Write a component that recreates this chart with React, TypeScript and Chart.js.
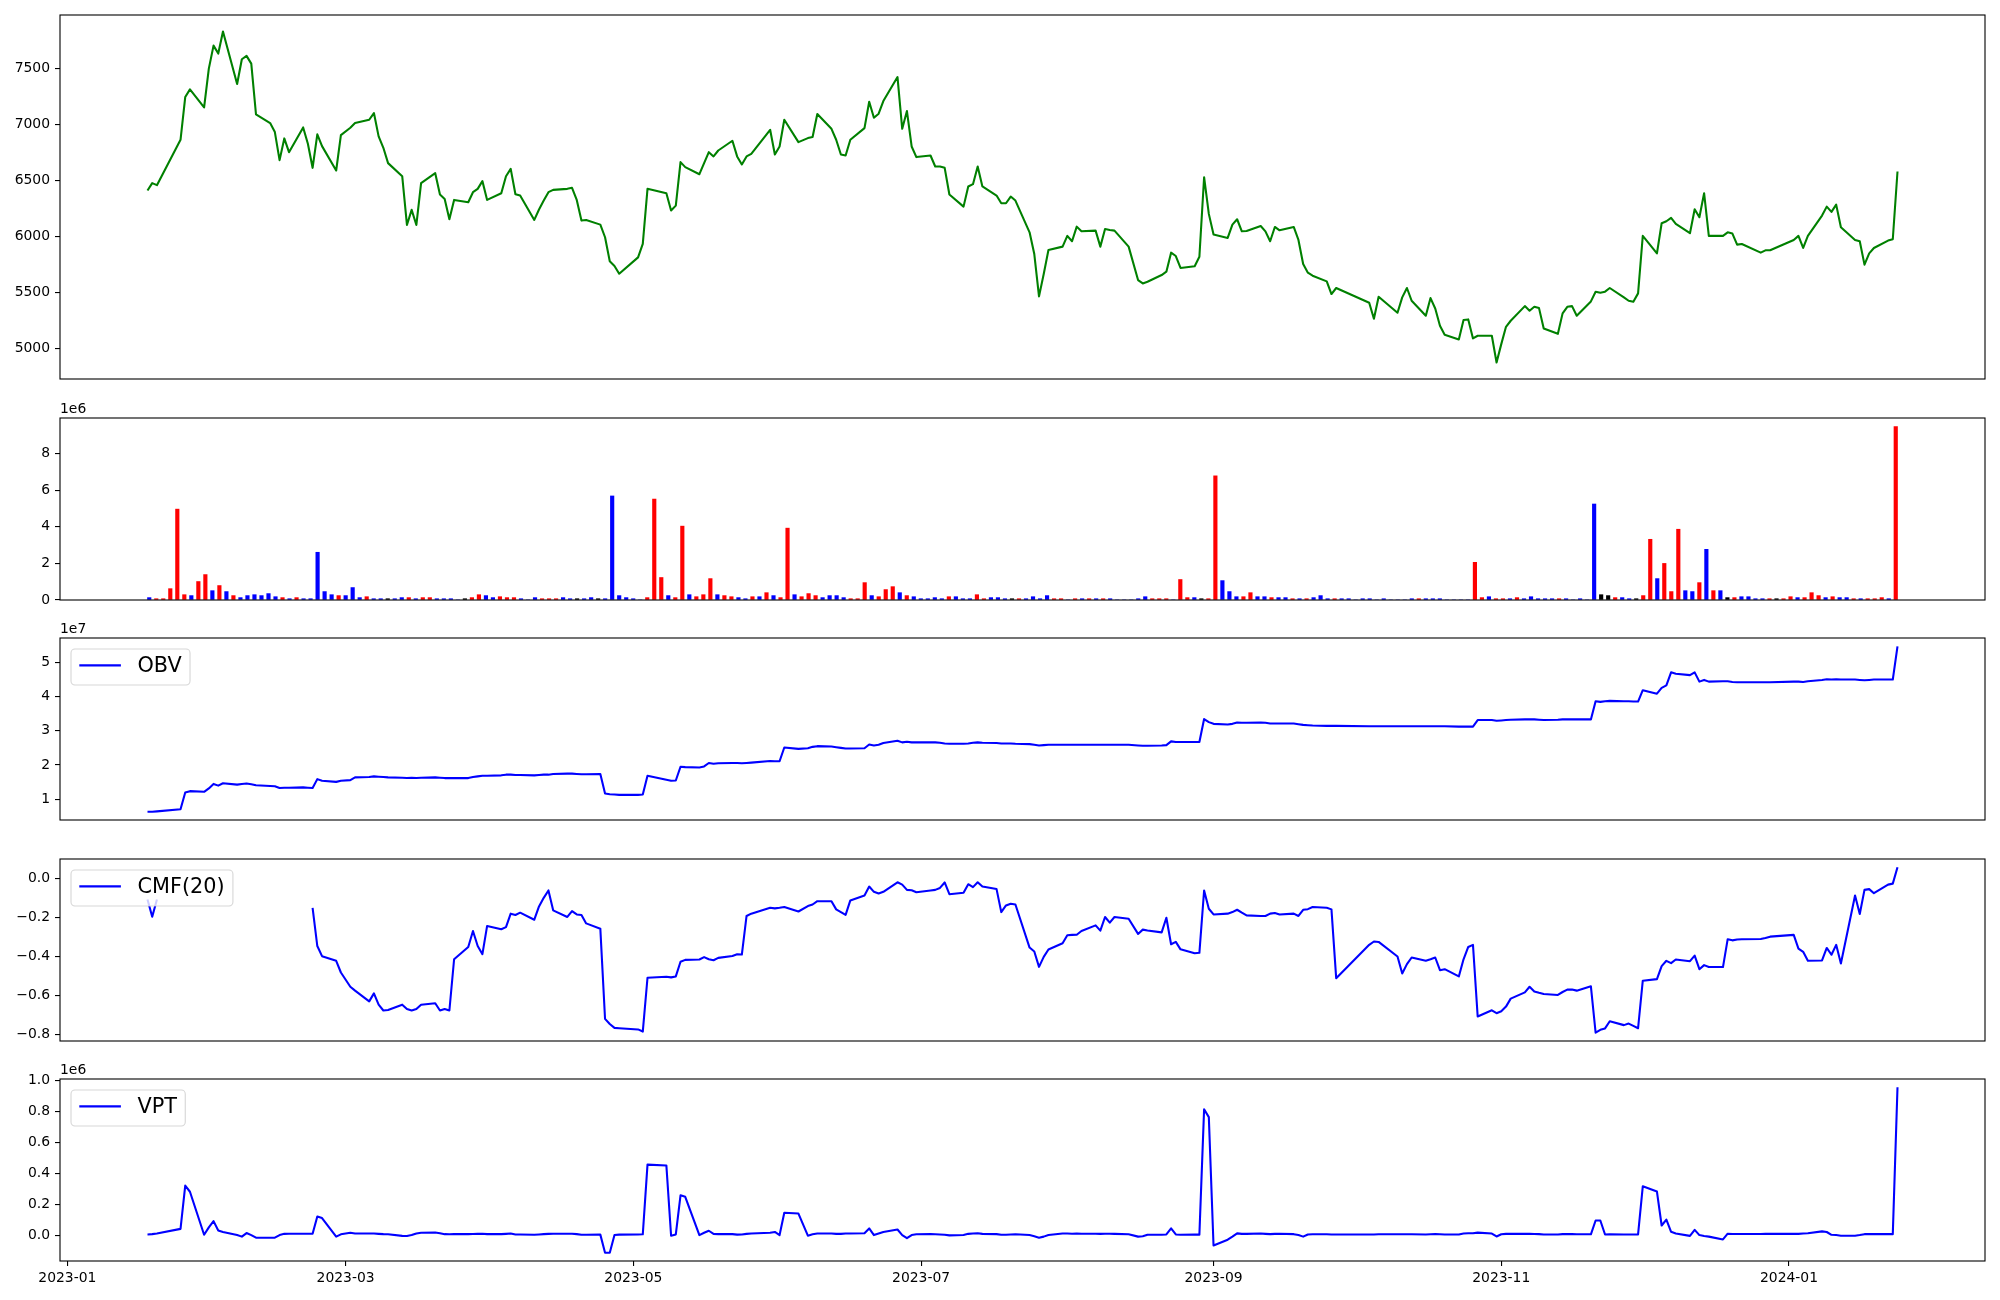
import React, { useEffect, useRef } from "react";
import { Chart, registerables } from "chart.js";
Chart.register(...registerables);

// ---------- calendar (Korean exchange trading days) ----------
const FIRST_DAY = "2023-01-18";
const LAST_DAY = "2024-01-24";
const MARKET_HOLIDAYS = [
  "2023-01-23", "2023-01-24", "2023-03-01", "2023-05-01", "2023-05-05", "2023-05-29",
  "2023-06-06", "2023-08-15", "2023-09-28", "2023-09-29", "2023-10-02", "2023-10-03",
  "2023-10-09", "2023-12-25", "2023-12-29", "2024-01-01",
];
const X_TICK_LABELS = ["2023-01", "2023-03", "2023-05", "2023-07", "2023-09", "2023-11", "2024-01"];

// ---------- data (one value per trading day) ----------
const PRICE = [
  6410, 6476, 6458, 6864, 7246, 7315, 7154, 7500, 7706, 7635,
  7832, 7363, 7584, 7614, 7545, 7091, 7013, 6933, 6682, 6876,
  6753, 6974, 6828, 6613, 6912, 6807, 6589, 6906, 6971, 7013,
  7043, 7103, 6894, 6792, 6655, 6538, 6102, 6237, 6102, 6476,
  6565, 6374, 6335, 6153, 6326, 6305, 6395, 6425, 6494, 6326,
  6386, 6538, 6604, 6377, 6365, 6147, 6240, 6320, 6395, 6416,
  6425, 6434, 6326, 6141, 6147, 6105, 5992, 5777, 5735, 5666,
  5812, 5932, 6425, 6386, 6231, 6275, 6664, 6619, 6556, 6655,
  6753, 6715, 6768, 6855, 6715, 6643, 6715, 6738, 6953, 6732,
  6804, 7043, 6843, 6879, 6888, 7094, 6962, 6864, 6732, 6723,
  6864, 6968, 7204, 7061, 7097, 7210, 7425, 6962, 7121, 6804,
  6709, 6723, 6625, 6625, 6613, 6374, 6266, 6446, 6467, 6625,
  6446, 6365, 6296, 6296, 6356, 6320, 6036, 5842, 5463, 5663,
  5878, 5908, 6004, 5956, 6087, 6045, 6051, 5908, 6066, 6057,
  6051, 5908, 5609, 5579, 5594, 5654, 5684, 5854, 5824, 5717,
  5732, 5818, 6529, 6201, 6016, 5986, 6105, 6153, 6045, 6048,
  6093, 6045, 5956, 6084, 6054, 6084, 5968, 5753, 5675, 5648,
  5597, 5484, 5538, 5406, 5263, 5460, 5317, 5454, 5538, 5424,
  5290, 5448, 5355, 5200, 5119, 5078, 5251, 5257, 5087, 5111,
  5111, 4872, 5036, 5191, 5245, 5376, 5335, 5370, 5358, 5176,
  5128, 5311, 5370, 5376, 5290, 5418, 5505, 5496, 5505, 5538,
  5454, 5424, 5415, 5490, 6004, 5848, 6117, 6135, 6165, 6111,
  6028, 6243, 6171, 6386, 6004, 6004, 6036, 6025, 5926, 5932,
  5854, 5875, 5875, 5968, 6004, 5896, 6004, 6186, 6266, 6219,
  6284, 6081, 5968, 5956, 5747, 5848, 5896, 5962, 5974, 6580,
];

// volume in millions
const VOLUME_M = [
  0.13, 0.07, 0.07, 0.62, 4.97, 0.29, 0.24, 1.01, 1.39, 0.51,
  0.79, 0.46, 0.24, 0.13, 0.24, 0.29, 0.24, 0.35, 0.18, 0.13,
  0.07, 0.13, 0.07, 0.07, 2.61, 0.46, 0.29, 0.24, 0.24, 0.68,
  0.13, 0.18, 0.07, 0.07, 0.07, 0.07, 0.13, 0.13, 0.07, 0.13,
  0.13, 0.07, 0.07, 0.07, 0, 0.07, 0.13, 0.29, 0.24, 0.13,
  0.18, 0.13, 0.13, 0.07, 0, 0.13, 0.07, 0.07, 0.07, 0.13,
  0.07, 0.07, 0.07, 0.13, 0.07, 0.07, 5.69, 0.24, 0.13, 0.07,
  0, 0.13, 5.52, 1.23, 0.24, 0.13, 4.04, 0.29, 0.18, 0.29,
  1.17, 0.29, 0.24, 0.18, 0.13, 0.07, 0.18, 0.18, 0.40, 0.24,
  0.13, 3.93, 0.29, 0.18, 0.35, 0.24, 0.13, 0.24, 0.24, 0.13,
  0.07, 0.07, 0.95, 0.24, 0.18, 0.57, 0.73, 0.40, 0.24, 0.18,
  0.07, 0.07, 0.13, 0.07, 0.18, 0.18, 0.07, 0.07, 0.29, 0.07,
  0.13, 0.13, 0.07, 0.07, 0.07, 0.07, 0.18, 0.07, 0.24, 0.07,
  0.07, 0, 0.07, 0.07, 0.07, 0.07, 0.07, 0.07, 0, 0,
  0, 0.07, 0.18, 0.07, 0.07, 0.07, 0, 1.12, 0.13, 0.13,
  0.07, 0.07, 6.79, 1.06, 0.46, 0.18, 0.18, 0.40, 0.18, 0.18,
  0.13, 0.13, 0.13, 0.07, 0.07, 0.07, 0.13, 0.24, 0.07, 0.07,
  0.07, 0.07, 0, 0.07, 0.07, 0, 0.07, 0, 0, 0,
  0.07, 0.07, 0.07, 0.07, 0.07, 0, 0, 0, 0, 2.06,
  0.13, 0.18, 0.07, 0.07, 0.07, 0.13, 0.07, 0.18, 0.07, 0.07,
  0.07, 0.07, 0.07, 0, 0.07, 0, 5.25, 0.29, 0.24, 0.13,
  0.13, 0.07, 0.07, 0.24, 3.32, 1.17, 2.00, 0.46, 3.87, 0.51,
  0.46, 0.95, 2.77, 0.51, 0.51, 0.13, 0.13, 0.18, 0.18, 0.07,
  0.07, 0.07, 0.07, 0.07, 0.18, 0.13, 0.13, 0.40, 0.24, 0.13,
  0.18, 0.13, 0.13, 0.07, 0.07, 0.07, 0.07, 0.13, 0.07, 9.48,
];

// bar colour: r = red, b = blue, k = black
const VOLUME_COLOR = (
  "brrrrrbrrb" + "rbrbbbbbbr" + "brbbbbbrbb" + "brbbkbbrbr" + "rbbbbkrrbb" +
  "rrrbbbrrrb" + "bkbbkbbbbb" + "brrrbrrbrr" + "rbrrbbrbrb" + "rrbrrrbbbb" +
  "rrrbrrrbrb" + "bbbbrbbbrr" + "bbbkrbbbbr" + "rbrbrbrbbb" + "bbbrrrbrrb" +
  "krrbbbrrbb" + "rbbrbrbbbr" + "bbbbbbbbbb" + "brbbbbbbbr" + "rbrrbrbbbb" +
  "brbbbbbkkr" + "bbkrrbrrrb" + "brbrbkrbbb" + "brkrrbrrrb" + "rbbrbrrrbr"
).split("");

// OBV in units of 1e7
const OBV_E7 = [
  0.64, 0.64, 0.65, 0.71, 1.20, 1.24, 1.22, 1.32, 1.45, 1.40,
  1.47, 1.43, 1.45, 1.46, 1.44, 1.41, 1.39, 1.38, 1.33, 1.34,
  1.34, 1.35, 1.34, 1.33, 1.59, 1.54, 1.51, 1.54, 1.56, 1.64,
  1.65, 1.67, 1.66, 1.65, 1.64, 1.63, 1.62, 1.63, 1.62, 1.63,
  1.64, 1.63, 1.62, 1.62, 1.62, 1.62, 1.65, 1.67, 1.69, 1.69,
  1.70, 1.72, 1.72, 1.71, 1.71, 1.70, 1.71, 1.72, 1.72, 1.74,
  1.75, 1.75, 1.74, 1.73, 1.73, 1.74, 1.17, 1.15, 1.14, 1.13,
  1.13, 1.14, 1.69, 1.57, 1.54, 1.55, 1.95, 1.94, 1.93, 1.96,
  2.06, 2.04, 2.05, 2.06, 2.06, 2.05, 2.06, 2.07, 2.12, 2.11,
  2.11, 2.51, 2.47, 2.49, 2.53, 2.55, 2.54, 2.52, 2.50, 2.48,
  2.48, 2.49, 2.60, 2.57, 2.59, 2.64, 2.71, 2.66, 2.68, 2.66,
  2.66, 2.66, 2.66, 2.65, 2.63, 2.62, 2.62, 2.63, 2.65, 2.66,
  2.65, 2.64, 2.63, 2.63, 2.63, 2.62, 2.61, 2.59, 2.57, 2.58,
  2.59, 2.59, 2.59, 2.59, 2.59, 2.59, 2.59, 2.59, 2.59, 2.59,
  2.59, 2.59, 2.57, 2.56, 2.56, 2.57, 2.58, 2.69, 2.67, 2.67,
  2.67, 2.67, 3.34, 3.25, 3.20, 3.18, 3.20, 3.24, 3.23, 3.23,
  3.24, 3.23, 3.21, 3.21, 3.21, 3.21, 3.19, 3.17, 3.16, 3.15,
  3.14, 3.14, 3.14, 3.13, 3.13, 3.13, 3.13, 3.13, 3.13, 3.13,
  3.13, 3.13, 3.13, 3.13, 3.13, 3.12, 3.12, 3.12, 3.12, 3.31,
  3.31, 3.29, 3.30, 3.31, 3.32, 3.33, 3.33, 3.33, 3.32, 3.31,
  3.32, 3.33, 3.33, 3.33, 3.33, 3.33, 3.86, 3.84, 3.86, 3.87,
  3.86, 3.86, 3.85, 3.85, 4.18, 4.08, 4.25, 4.32, 4.70, 4.66,
  4.62, 4.70, 4.43, 4.48, 4.43, 4.44, 4.44, 4.42, 4.41, 4.41,
  4.41, 4.41, 4.41, 4.43, 4.43, 4.42, 4.44, 4.48, 4.50, 4.49,
  4.50, 4.49, 4.49, 4.48, 4.47, 4.48, 4.49, 4.49, 4.49, 5.46,
];

const CMF_20: (number | null)[] = [
  -0.107, -0.196, -0.107, null, null, null, null, null, null, null,
  null, null, null, null, null, null, null, null, null, null,
  null, null, null, -0.150, -0.346, -0.398, -0.422, -0.482, -0.555, -0.575,
  -0.630, -0.589, -0.647, -0.677, -0.674, -0.647, -0.669, -0.677, -0.669, -0.647,
  -0.640, -0.677, -0.669, -0.677, -0.414, -0.351, -0.269, -0.346, -0.388, -0.243,
  -0.260, -0.249, -0.180, -0.187, -0.175, -0.211, -0.143, -0.099, -0.061, -0.163,
  -0.197, -0.167, -0.184, -0.187, -0.230, -0.257, -0.720, -0.746, -0.766, -0.768,
  -0.774, -0.785, -0.509, -0.504, -0.507, -0.502, -0.427, -0.417, -0.415, -0.403,
  -0.414, -0.419, -0.407, -0.397, -0.388, -0.390, -0.192, -0.180, -0.150, -0.153,
  -0.150, -0.146, -0.169, -0.141, -0.133, -0.116, -0.116, -0.158, -0.172, -0.186,
  -0.112, -0.087, -0.041, -0.068, -0.077, -0.068, -0.019, -0.031, -0.058, -0.060,
  -0.070, -0.061, -0.058, -0.048, -0.020, -0.080, -0.073, -0.029, -0.044, -0.019,
  -0.041, -0.054, -0.172, -0.138, -0.129, -0.133, -0.354, -0.374, -0.453, -0.402,
  -0.364, -0.332, -0.291, -0.289, -0.288, -0.269, -0.240, -0.267, -0.197, -0.226,
  -0.197, -0.206, -0.284, -0.262, -0.266, -0.276, -0.201, -0.337, -0.325, -0.363,
  -0.383, -0.381, -0.061, -0.155, -0.184, -0.180, -0.172, -0.160, -0.175, -0.189,
  -0.192, -0.192, -0.180, -0.177, -0.184, -0.180, -0.192, -0.160, -0.157, -0.146,
  -0.150, -0.158, -0.511, -0.340, -0.323, -0.325, -0.400, -0.487, -0.439, -0.405,
  -0.422, -0.414, -0.405, -0.470, -0.465, -0.502, -0.414, -0.351, -0.340, -0.708,
  -0.676, -0.691, -0.681, -0.657, -0.616, -0.584, -0.555, -0.579, -0.586, -0.592,
  -0.597, -0.582, -0.570, -0.569, -0.575, -0.553, -0.791, -0.776, -0.769, -0.732,
  -0.752, -0.744, -0.756, -0.768, -0.524, -0.516, -0.449, -0.422, -0.434, -0.415,
  -0.424, -0.395, -0.465, -0.444, -0.454, -0.454, -0.311, -0.317, -0.313, -0.311,
  -0.310, -0.305, -0.298, -0.289, -0.359, -0.376, -0.422, -0.420, -0.356, -0.391,
  -0.340, -0.436, -0.087, -0.182, -0.058, -0.054, -0.075, -0.031, -0.026, 0.058,
];

// VPT in units of 1e6
const VPT_E6 = [
  0.004, 0.006, 0.01, 0.04, 0.32, 0.28, 0.002, 0.05, 0.09, 0.03,
  0.02, 0.0, -0.01, 0.013, 0.0, -0.017, -0.017, -0.017, 0.0, 0.008,
  0.009, 0.009, 0.009, 0.009, 0.12, 0.11, -0.01, 0.005, 0.015, 0.01,
  0.01, 0.01, 0.008, 0.006, 0.005, -0.005, -0.006, 0.0, 0.01, 0.015,
  0.017, 0.012, 0.006, 0.005, 0.006, 0.006, 0.007, 0.008, 0.009, 0.006,
  0.006, 0.008, 0.01, 0.004, 0.004, 0.002, 0.004, 0.006, 0.008, 0.009,
  0.009, 0.009, 0.006, 0.002, 0.002, 0.003, -0.114, -0.114, 0.0, 0.003,
  0.004, 0.005, 0.455, 0.45, -0.004, 0.004, 0.257, 0.247, 0.0, 0.015,
  0.028, 0.008, 0.006, 0.006, 0.003, 0.004, 0.008, 0.01, 0.015, 0.02,
  0.0, 0.144, 0.139, -0.004, 0.005, 0.01, 0.01, 0.008, 0.008, 0.01,
  0.01, 0.012, 0.043, 0.0, 0.01, 0.02, 0.036, 0.0, -0.02, 0.0,
  0.005, 0.006, 0.005, 0.004, 0.002, -0.002, 0.0, 0.008, 0.01, 0.012,
  0.008, 0.006, 0.002, 0.002, 0.004, 0.005, 0.0, -0.008, -0.017, -0.01,
  0.0, 0.01, 0.01, 0.009, 0.01, 0.009, 0.009, 0.008, 0.009, 0.009,
  0.008, 0.005, -0.01, -0.008, 0.002, 0.002, 0.004, 0.043, 0.004, 0.002,
  0.003, 0.003, 0.813, 0.762, -0.067, -0.03, -0.01, 0.011, 0.008, 0.008,
  0.01, 0.008, 0.006, 0.008, 0.009, 0.006, 0.0, -0.01, 0.004, 0.005,
  0.005, 0.004, 0.004, 0.004, 0.004, 0.005, 0.005, 0.005, 0.005, 0.005,
  0.004, 0.005, 0.006, 0.005, 0.004, 0.004, 0.01, 0.012, 0.012, 0.016,
  0.01, -0.009, 0.005, 0.008, 0.008, 0.009, 0.008, 0.007, 0.006, 0.004,
  0.004, 0.006, 0.007, 0.006, 0.005, 0.005, 0.094, 0.094, 0.004, 0.005,
  0.004, 0.004, 0.004, 0.004, 0.315, 0.281, 0.062, 0.10, 0.021, 0.01,
  -0.005, 0.034, 0.0, -0.006, -0.01, -0.028, 0.009, 0.007, 0.007, 0.007,
  0.007, 0.008, 0.008, 0.008, 0.008, 0.01, 0.012, 0.024, 0.02, 0.002,
  0.0, -0.004, -0.004, 0.0, 0.006, 0.006, 0.006, 0.006, 0.006, 0.955,
];

const PRICE_TICKS = [5000, 5500, 6000, 6500, 7000, 7500];
const VOLUME_TICKS = [0, 2, 4, 6, 8];
const OBV_TICKS = [1, 2, 3, 4, 5];
const CMF_TICKS = [-0.8, -0.6, -0.4, -0.2, 0.0];
const VPT_TICKS = [0, 0.2, 0.4, 0.6, 0.8, 1.0];

// ---------- helpers ----------
const ORIGIN = Date.UTC(2023, 0, 1);
const DAY_MS = 86400000;
const dayNum = (iso: string) => Math.round((Date.parse(iso + "T00:00:00Z") - ORIGIN) / DAY_MS);

function buildTradingDays(): number[] {
  const out: number[] = [];
  for (let d = dayNum(FIRST_DAY); d <= dayNum(LAST_DAY); d++) {
    const dt = new Date(ORIGIN + d * DAY_MS);
    const wd = dt.getUTCDay();
    if (wd === 0 || wd === 6) continue;
    if (MARKET_HOLIDAYS.includes(dt.toISOString().slice(0, 10))) continue;
    out.push(d);
  }
  return out;
}
const TRADING_DAYS = buildTradingDays();
const X_TICK_DAYS = X_TICK_LABELS.map((l) => dayNum(l + "-01"));

const COLOR_MAP: Record<string, string> = { r: "#ff0000", b: "#0000ff", k: "#000000" };
const FONT = '"DejaVu Sans", "Liberation Sans", sans-serif';
const TICK_FONT = { family: FONT, size: 13.9 };

function padRange(vals: (number | null)[]) {
  const v = vals.filter((x) => x !== null) as number[];
  const lo = Math.min(...v), hi = Math.max(...v);
  const m = (hi - lo) * 0.05;
  return [lo - m, hi + m];
}

const DATE_FIRST = TRADING_DAYS[0];
const DATE_LAST = TRADING_DAYS[TRADING_DAYS.length - 1];
const DATE_MARGIN = (DATE_LAST - DATE_FIRST) * 0.05;
const X_MIN = DATE_FIRST - DATE_MARGIN;
const X_MAX = DATE_LAST + DATE_MARGIN;

function yAxis(min: number, max: number, ticks: number[], fmt: (v: number) => string) {
  return {
    type: "linear",
    position: "left",
    min,
    max,
    afterBuildTicks: (s: any) => {
      s.ticks = ticks.map((v) => ({ value: v }));
    },
    afterFit: (s: any) => {
      s.width = 60;
    },
    ticks: {
      callback: (v: any) => fmt(Number(v)),
      font: TICK_FONT,
      color: "#000",
      padding: 5,
      autoSkip: false,
      maxRotation: 0,
    },
    grid: { drawOnChartArea: false, drawTicks: true, tickLength: 5, color: "#000", lineWidth: 1.1 },
    border: { display: false },
  };
}

function dateAxis(show: boolean) {
  if (!show) return { type: "linear", min: X_MIN, max: X_MAX, display: false };
  return {
    type: "linear",
    position: "bottom",
    min: X_MIN,
    max: X_MAX,
    afterBuildTicks: (s: any) => {
      s.ticks = X_TICK_DAYS.map((v) => ({ value: v }));
    },
    afterFit: (s: any) => {
      s.height = 39;
    },
    ticks: {
      callback: (_v: any, i: number) => X_TICK_LABELS[i],
      font: TICK_FONT,
      color: "#000",
      padding: 4,
      autoSkip: false,
      maxRotation: 0,
      minRotation: 0,
    },
    grid: { drawOnChartArea: false, drawTicks: true, tickLength: 5, color: "#000", lineWidth: 1.1 },
    border: { display: false },
  };
}

const framePlugin = {
  id: "mplFrame",
  afterDatasetsDraw(chart: any) {
    const { ctx, chartArea: a } = chart;
    ctx.save();
    ctx.strokeStyle = "#000";
    ctx.lineWidth = 1.1;
    ctx.strokeRect(a.left, a.top, a.right - a.left, a.bottom - a.top);
    ctx.restore();
  },
};

const legendPlugin = {
  id: "mplLegend",
  afterDraw(chart: any, _args: any, opts: any) {
    if (!opts || !opts.label) return;
    const { ctx, chartArea: a } = chart;
    const fs = 20.8;
    ctx.save();
    ctx.font = `${fs}px ${FONT}`;
    const tw = ctx.measureText(opts.label).width;
    const x = a.left + 11, y = a.top + 11;
    const w = 8.3 * 2 + 41.6 + 16.6 + tw, h = 36;
    ctx.beginPath();
    if (ctx.roundRect) ctx.roundRect(x, y, w, h, 4);
    else ctx.rect(x, y, w, h);
    ctx.fillStyle = "rgba(255,255,255,0.8)";
    ctx.fill();
    ctx.strokeStyle = "rgba(204,204,204,0.8)";
    ctx.lineWidth = 1.1;
    ctx.stroke();
    ctx.beginPath();
    ctx.strokeStyle = opts.color;
    ctx.lineWidth = 2.08;
    ctx.moveTo(x + 8.3, y + 16.4);
    ctx.lineTo(x + 8.3 + 41.6, y + 16.4);
    ctx.stroke();
    ctx.fillStyle = "#000";
    ctx.textBaseline = "alphabetic";
    ctx.textAlign = "left";
    ctx.fillText(opts.label, x + 66.5, y + 23.4);
    ctx.restore();
  },
};

const offsetTextPlugin = {
  id: "offsetText",
  afterDraw(chart: any, _args: any, opts: any) {
    if (!opts || !opts.text) return;
    const { ctx, chartArea: a } = chart;
    ctx.save();
    ctx.font = `13.9px ${FONT}`;
    ctx.fillStyle = "#000";
    ctx.textBaseline = "alphabetic";
    ctx.textAlign = "left";
    ctx.fillText(opts.text, a.left, a.top - 5);
    ctx.restore();
  },
};

const PANELS = [
  { top: 15, bottom: 379, padTop: 15 },
  { top: 418, bottom: 600, padTop: 30 },
  { top: 638, bottom: 820, padTop: 30 },
  { top: 859, bottom: 1041, padTop: 30 },
  { top: 1079, bottom: 1261, padTop: 30 },
];
const PAD_BOTTOM = 18;

function lineData(vals: (number | null)[], color: string) {
  return {
    datasets: [
      {
        type: "line",
        data: TRADING_DAYS.map((d, i) => ({ x: d, y: vals[i] })),
        borderColor: color,
        borderWidth: 2.08,
        pointRadius: 0,
        tension: 0,
        spanGaps: false,
        fill: false,
        borderJoinStyle: "round",
        borderCapStyle: "butt",
      },
    ],
  };
}

function baseOptions(k: number, scales: any, legend: any, offset: any) {
  const last = k === PANELS.length - 1;
  return {
    responsive: false,
    maintainAspectRatio: false,
    animation: false,
    devicePixelRatio: 1,
    events: [],
    layout: { padding: { top: PANELS[k].padTop, bottom: last ? 0 : PAD_BOTTOM, left: 0, right: 15 } },
    scales,
    plugins: {
      legend: { display: false },
      tooltip: { enabled: false },
      mplLegend: legend,
      offsetText: offset,
    },
  };
}

const fmtInt = (v: number) => String(Math.round(v));
const fmt1 = (v: number) => {
  const s = Math.abs(v) < 1e-9 ? "0.0" : v.toFixed(1);
  return s.replace("-", "\u2212");
};

function buildConfig(k: number): any {
  const plugins = [framePlugin, legendPlugin, offsetTextPlugin];
  if (k === 0) {
    const [lo, hi] = padRange(PRICE);
    return {
      type: "line",
      data: lineData(PRICE, "#008000"),
      options: baseOptions(k, { x: dateAxis(false), y: yAxis(lo, hi, PRICE_TICKS, fmtInt) }, {}, {}),
      plugins,
    };
  }
  if (k === 1) {
    const n = VOLUME_M.length;
    const halfW = 0.25;
    const span = n - 1 + 2 * halfW;
    const vmax = Math.max(...VOLUME_M) * 1.05;
    return {
      type: "bar",
      data: {
        datasets: [
          {
            type: "bar",
            data: VOLUME_M.map((v, i) => ({ x: i, y: v })),
            backgroundColor: VOLUME_COLOR.map((c) => COLOR_MAP[c]),
            borderWidth: 0,
            barThickness: 3.5,
          },
        ],
      },
      options: baseOptions(
        k,
        {
          x: { type: "linear", min: -halfW - 0.05 * span, max: n - 1 + halfW + 0.05 * span, display: false, offset: false, grid: { offset: false } },
          y: yAxis(0, vmax, VOLUME_TICKS, fmtInt),
        },
        {},
        { text: "1e6" }
      ),
      plugins,
    };
  }
  if (k === 2) {
    const [lo, hi] = padRange(OBV_E7);
    return {
      type: "line",
      data: lineData(OBV_E7, "#0000ff"),
      options: baseOptions(k, { x: dateAxis(false), y: yAxis(lo, hi, OBV_TICKS, fmtInt) }, { label: "OBV", color: "#0000ff" }, { text: "1e7" }),
      plugins,
    };
  }
  if (k === 3) {
    const [lo, hi] = padRange(CMF_20);
    return {
      type: "line",
      data: lineData(CMF_20, "#0000ff"),
      options: baseOptions(k, { x: dateAxis(false), y: yAxis(lo, hi, CMF_TICKS, fmt1) }, { label: "CMF(20)", color: "#0000ff" }, {}),
      plugins,
    };
  }
  const [lo, hi] = padRange(VPT_E6);
  return {
    type: "line",
    data: lineData(VPT_E6, "#0000ff"),
    options: baseOptions(k, { x: dateAxis(true), y: yAxis(lo, hi, VPT_TICKS, fmt1) }, { label: "VPT", color: "#0000ff" }, { text: "1e6" }),
    plugins,
  };
}

export default function App() {
  const r0 = useRef<HTMLCanvasElement>(null);
  const r1 = useRef<HTMLCanvasElement>(null);
  const r2 = useRef<HTMLCanvasElement>(null);
  const r3 = useRef<HTMLCanvasElement>(null);
  const r4 = useRef<HTMLCanvasElement>(null);
  const refs = [r0, r1, r2, r3, r4];

  useEffect(() => {
    Chart.defaults.font.family = FONT;
    const charts = refs.map((r, k) => new Chart(r.current as HTMLCanvasElement, buildConfig(k)));
    return () => charts.forEach((c) => c.destroy());
  }, []);

  return (
    <div style={{ position: "fixed", left: 0, top: 0, width: 2000, height: 1300, background: "#ffffff", overflow: "hidden" }}>
      {PANELS.map((p, k) => {
        const last = k === PANELS.length - 1;
        const h = p.padTop + (p.bottom - p.top) + (last ? 39 : PAD_BOTTOM);
        return (
          <canvas
            key={k}
            ref={refs[k]}
            width={2000}
            height={h}
            style={{ position: "absolute", left: 0, top: p.top - p.padTop, width: 2000, height: h }}
          />
        );
      })}
    </div>
  );
}
